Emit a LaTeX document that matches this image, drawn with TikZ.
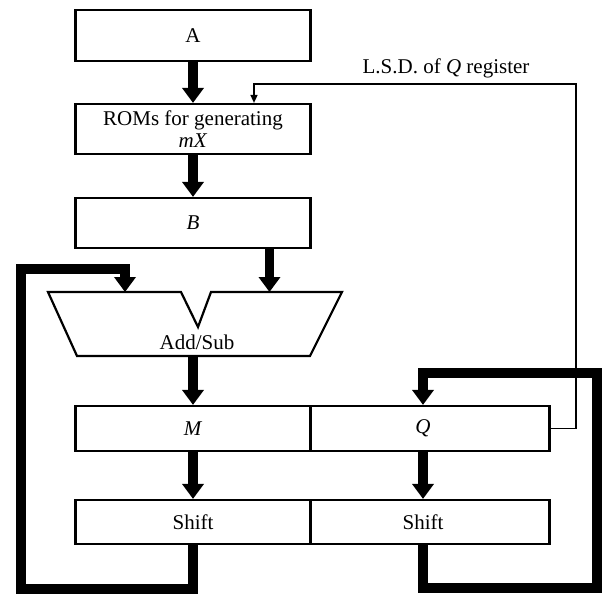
\documentclass[tikz,border=0pt]{standalone}
\usepackage{fontspec}
\setmainfont{Liberation Serif}
\usetikzlibrary{arrows.meta,calc}
\tikzset{
  blk/.style={draw, line width=2.2pt, inner sep=0pt, minimum width=235pt, font=\fontsize{21}{23}\selectfont},
  txt/.style={inner sep=0pt, font=\fontsize{21}{23}\selectfont},
  bigarrow/.style={line width=9.5pt, line join=miter, -{Triangle[width=21pt,length=15pt]}},
  thinarrow/.style={line width=1.5pt, line join=miter, -{Triangle[width=7pt,length=8pt]}},
}
\begin{document}
\begin{tikzpicture}[x=1pt,y=-1pt]
\useasboundingbox (0,0) rectangle (604,595);
% boxes
\node[blk, minimum height=51pt] (A) at (193,35.5) {A};
\node[blk, minimum height=50pt, align=center] (R) at (193,129) {ROMs for generating\\[-1pt]\textit{mX}};
\node[blk, minimum height=50pt] (B) at (193,223) {\textit{B}};
\node[blk, minimum height=45pt] (M) at (193,428.5) {\textit{M}};
\node[blk, minimum height=45pt, minimum width=239pt] (Q) at (430,428.5) {};
\node[blk, minimum height=44pt] (SM) at (193,522) {Shift};
\node[blk, minimum height=44pt, minimum width=239pt] (SQ) at (430,522) {};
\coordinate (qx) at (423,0);
\node[txt] (Qt) at (Q -| qx) {\textit{Q}};
\node[txt] (SQt) at (SQ -| qx) {Shift};
% Add/Sub unit
\coordinate (ain) at (125,292);
\coordinate (bin) at (269.5,292);
\draw[line width=2.2pt, line join=miter] (48,292) -- (181,292) -- (198,327) -- (211,292) -- (342,292)
  -- (310,356) -- (77,356) -- cycle;
\node[txt] (AS) at (197,342) {Add/Sub};
\coordinate (asout) at (193,356);
% label
\node[txt] (lsd) at (446,68) {L.S.D. of \textit{Q} register};
% thick arrows
\draw[bigarrow] (A.south) -- (R.north);
\draw[bigarrow] (R.south) -- (B.north);
\draw[bigarrow] (B.south -| bin) -- (bin);
\draw[bigarrow] (asout) -- (M.north);
\draw[bigarrow] (M.south) -- (SM.north);
\draw[bigarrow] (Q.south -| qx) -- (SQ.north -| qx);
% left feedback loop
\coordinate (l1) at (21,589);
\coordinate (l2) at (21,269);
\draw[bigarrow] (SM.south) -- (SM.south |- l1) -- (l1) -- (l2) -- (l2 -| ain) -- (ain);
% right feedback loop
\coordinate (r1) at (597,588);
\coordinate (r2) at (597,373);
\draw[bigarrow] (SQ.south -| qx) -- (qx |- r1) -- (r1) -- (r2) -- (r2 -| qx) -- (Q.north -| qx);
% thin L.S.D. line
\coordinate (t1) at (576,428.5);
\coordinate (t2) at (576,84);
\coordinate (rin) at (254,84);
\draw[thinarrow] (Q.east) -- (t1) -- (t2) -- (rin) -- (R.north -| rin);
\end{tikzpicture}
\end{document}
